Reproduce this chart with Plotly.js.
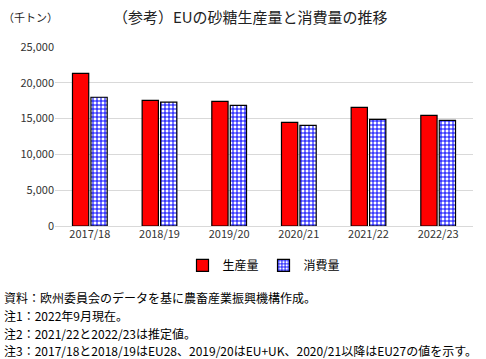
<!DOCTYPE html>
<html><head><meta charset="utf-8">
<script src="https://cdn.plot.ly/plotly-3.0.1.min.js"></script>
<style>html,body{margin:0;padding:0;background:#fff}#c{width:486px;height:359px}</style>
</head><body><div id="c"></div>
<script>
const years = ["2017/18","2018/19","2019/20","2020/21","2021/22","2022/23"];
const production = [21330, 17550, 17400, 14480, 16570, 15460];
const consumption = [17980, 17300, 16860, 14060, 14900, 14760];
const seriesNames = ["生産量","消費量"];
const yTicks = [0,5000,10000,15000,20000,25000];
const notes = [
  "資料：欧州委員会のデータを基に農畜産業振興機構作成。",
  "注1：2022年9月現在。",
  "注2：2021/22と2022/23は推定値。",
  "注3：2017/18と2018/19はEU28、2019/20はEU+UK、2020/21以降はEU27の値を示す。"
];
const font = "Noto Sans CJK JP, sans-serif";
const data = [
  {type:"bar", name:seriesNames[0], x:years, y:production,
   marker:{color:"#ff0000", line:{color:"#000", width:1.2}}},
  {type:"bar", name:seriesNames[1], x:years, y:consumption,
   marker:{color:"#ffffff", line:{color:"#000", width:1.2},
     pattern:{shape:"+", fgcolor:"#0000ff", bgcolor:"#ffffff", size:4, solidity:0.45}}}
];
const ann = [
  {text:"（千トン）", xref:"paper", yref:"paper", x:-0.13, y:1.165, xanchor:"left", yanchor:"middle", showarrow:false, font:{size:11, color:"#222", family:font}}
];
notes.forEach((t,i)=>ann.push({text:t, xref:"paper", yref:"paper", xanchor:"left", yanchor:"middle",
  x:-0.126, y:-0.4 - i*0.099, showarrow:false, font:{size:12, color:"#000", family:font}}));
const layout = {
  width:486, height:359,
  margin:{l:55, r:13, t:47, b:133},
  paper_bgcolor:"#fff", plot_bgcolor:"#fff",
  font:{family:font, size:11, color:"#333"},
  title:{text:"（参考）EUの砂糖生産量と消費量の推移", x:0.515, xanchor:"center", y:0.95, yanchor:"middle", font:{size:15, color:"#222", family:font}},
  barmode:"group", bargap:0.47, bargroupgap:0.12,
  xaxis:{type:"category", showline:false, ticks:"", tickfont:{size:11, color:"#333"}},
  yaxis:{range:[0,25000], tickvals:yTicks, tickformat:",d", showgrid:true, gridcolor:"#d9d9d9", gridwidth:1,
    zeroline:true, zerolinecolor:"#d9d9d9", ticks:"", tickfont:{size:11, color:"#333"}, fixedrange:true},
  legend:{orientation:"h", x:0.5, xanchor:"center", y:-0.22, yanchor:"middle", font:{size:12, color:"#000"}, itemwidth:30, traceorder:"normal"},
  annotations:ann,
  showlegend:true
};
Plotly.newPlot("c", data, layout, {staticPlot:true, displayModeBar:false});
</script></body></html>
